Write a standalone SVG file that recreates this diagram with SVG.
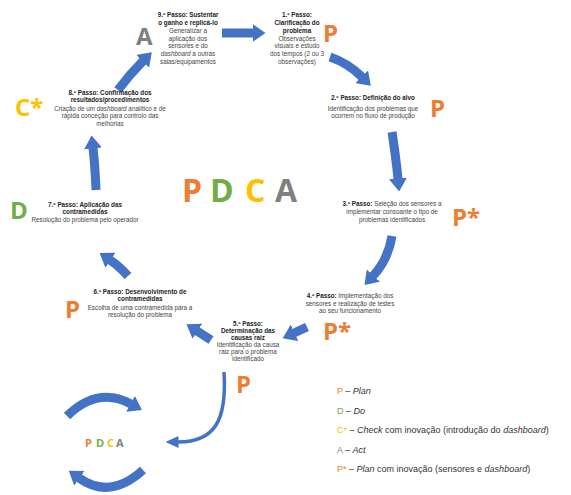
<svg xmlns="http://www.w3.org/2000/svg" width="571" height="495" viewBox="0 0 571 495">
<style>
.t{font-family:"Liberation Sans",Arial,sans-serif;font-size:6.3px;fill:#444;text-anchor:middle}
.b{font-weight:bold;fill:#222}
.i{font-style:italic}
.big{font-family:"Open Sans","Liberation Sans",sans-serif;font-weight:bold;font-size:24px}
.o{fill:#ED7D31}.g{fill:#70AD47}.y{fill:#FFC000}.a{fill:#808080}
.arr{fill:none;stroke:#4472C4;stroke-width:9;marker-end:url(#h)}
.leg{font-family:"Liberation Sans",Arial,sans-serif;font-size:9px;fill:#333}
</style>
<defs>
<marker id="h" markerUnits="userSpaceOnUse" viewBox="0 0 13 18" markerWidth="13" markerHeight="18" refX="0.5" refY="9" orient="auto"><path d="M0,0 L13,9 L0,18 z" fill="#4472C4"/></marker>
<marker id="ht" markerUnits="userSpaceOnUse" viewBox="0 0 13 12" markerWidth="13" markerHeight="12" refX="0.5" refY="6" orient="auto"><path d="M0,0 L13,6 L0,12 z" fill="#4472C4"/></marker>
</defs>
<rect width="571" height="495" fill="#fff"/>

<g id="connectors">
<path class="arr" d="M222,33 L253,33"/>
<path class="arr" d="M330,57 Q348,63 362,77"/>
<path class="arr" d="M392,132 Q396,158 398,179"/>
<path class="arr" d="M392,236 Q388,260 373,276"/>
<path class="arr" d="M307,327 L294,333"/>
<path class="arr" d="M211,340 L197,331"/>
<path class="arr" d="M128,276 Q119,266 110,260"/>
<path class="arr" d="M96,190 Q95,165 93,148"/>
<path class="arr" d="M118,90 Q130,74 143,61"/>
<path fill="none" stroke="#4472C4" stroke-width="3.5" marker-end="url(#ht)" d="M224,372 C227,420 215,442 178,442"/>
</g>

<g id="step9">
<text class="big a" x="136" y="45">A</text>
<text class="t b" x="188" y="17">9.º Passo: Sustentar</text>
<text class="t b" x="188" y="24.8">o ganho e replicá-lo</text>
<text class="t" x="188" y="32.7">Generalizar a</text>
<text class="t" x="188" y="40.5">aplicação dos</text>
<text class="t" x="188" y="48.3">sensores e do</text>
<text class="t" x="188" y="56.2"><tspan class="i">dashboard</tspan> a outras</text>
<text class="t" x="188" y="64">salas/equipamentos</text>
</g>

<g id="step1">
<text class="big o" x="323" y="42">P</text>
<text class="t b" x="297" y="17">1.º Passo:</text>
<text class="t b" x="297" y="24.8">Clarificação do</text>
<text class="t b" x="297" y="32.7">problema</text>
<text class="t" x="297" y="40.5">Observações</text>
<text class="t" x="297" y="48.3">visuais e estudo</text>
<text class="t" x="297" y="56.2">dos tempos (2 ou 3</text>
<text class="t" x="297" y="64">observações)</text>
</g>

<g id="step2">
<text class="big o" x="430" y="117">P</text>
<text class="t b" x="373" y="100">2.º Passo: Definição do alvo</text>
<text class="t" x="373" y="111">Identificação dos problemas que</text>
<text class="t" x="373" y="118">ocorrem no fluxo de produção</text>
</g>

<g id="step3">
<text class="big o" x="452" y="226">P*</text>
<text class="t" x="392" y="206"><tspan class="b">3.º Passo:</tspan> Seleção dos sensores a</text>
<text class="t" x="392" y="214">implementar consoante o tipo de</text>
<text class="t" x="392" y="222">problemas identificados</text>
</g>

<g id="step4">
<text class="big o" x="323" y="340">P*</text>
<text class="t" x="350" y="298"><tspan class="b">4.º Passo:</tspan> Implementação dos</text>
<text class="t" x="350" y="305.5">sensores e realização de testes</text>
<text class="t" x="350" y="313">ao seu funcionamento</text>
</g>

<g id="step5">
<text class="big o" x="236" y="393">P</text>
<text class="t b" x="248" y="326">5.º Passo:</text>
<text class="t b" x="248" y="333">Determinação das</text>
<text class="t b" x="248" y="340">causas raiz</text>
<text class="t" x="248" y="347">Identificação da causa</text>
<text class="t" x="248" y="354">raiz para o problema</text>
<text class="t" x="248" y="361">identificado</text>
</g>

<g id="step6">
<text class="big o" x="65" y="318">P</text>
<text class="t b" x="140" y="294">6.º Passo: Desenvolvimento de</text>
<text class="t b" x="140" y="301">contramedidas</text>
<text class="t" x="140" y="310">Escolha de uma contramedida para a</text>
<text class="t" x="140" y="317">resolução do problema</text>
</g>

<g id="step7">
<text class="big g" x="10" y="219">D</text>
<text class="t b" x="85" y="207">7.º Passo: Aplicação das</text>
<text class="t b" x="85" y="214">contramedidas</text>
<text class="t" x="85" y="222">Resolução do problema pelo operador</text>
</g>

<g id="step8">
<text class="big y" x="15" y="116">C*</text>
<text class="t b" x="110" y="95">8.º Passo: Confirmação dos</text>
<text class="t b" x="110" y="102">resultados/procedimentos</text>
<text class="t" x="110" y="111">Criação de um <tspan class="i">dashboard</tspan> analítico e de</text>
<text class="t" x="110" y="118">rápida conceção para controlo das</text>
<text class="t" x="110" y="126">melhorias</text>
</g>

<g id="pdca-center" font-family="Open Sans, Liberation Sans, sans-serif" font-weight="bold" font-size="32">
<text class="o" x="182" y="202">P</text>
<text class="g" x="210" y="202">D</text>
<text class="y" x="245" y="202">C</text>
<text class="a" x="275" y="202">A</text>
</g>

<g id="pdca-cycle">
<path class="arr" d="M67,416 Q98,386 131,404"/>
<path class="arr" d="M143,470 Q110,500 79,478"/>
<g font-family="Open Sans, Liberation Sans, sans-serif" font-weight="bold" font-size="11">
<text class="o" x="85" y="447">P</text>
<text class="g" x="96" y="447">D</text>
<text class="y" x="107" y="447">C</text>
<text class="a" x="116" y="447">A</text>
</g>
</g>

<g id="legend">
<text class="leg" x="337" y="394"><tspan class="o">P</tspan> – <tspan class="i">Plan</tspan></text>
<text class="leg" x="337" y="414"><tspan class="g">D</tspan> – <tspan class="i">Do</tspan></text>
<text class="leg" x="337" y="433"><tspan class="y">C*</tspan> – <tspan class="i">Check</tspan> com inovação (introdução do <tspan class="i">dashboard</tspan>)</text>
<text class="leg" x="337" y="453"><tspan class="a">A</tspan> – <tspan class="i">Act</tspan></text>
<text class="leg" x="337" y="472"><tspan class="o">P*</tspan> – <tspan class="i">Plan</tspan> com inovação (sensores e <tspan class="i">dashboard</tspan>)</text>
</g>
</svg>
